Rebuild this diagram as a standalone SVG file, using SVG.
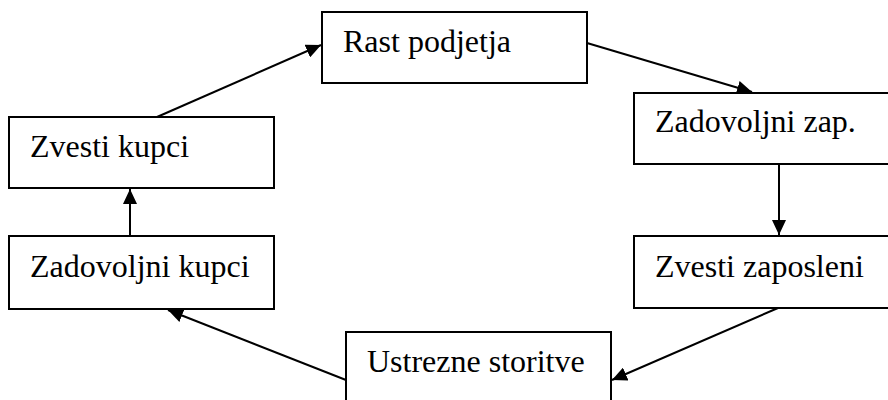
<svg xmlns="http://www.w3.org/2000/svg" width="888" height="400" viewBox="0 0 888 400">
  <style>
    .box { fill: #ffffff; stroke: #000000; stroke-width: 2; }
    .lbl { font-family: "Liberation Serif", "Times New Roman", serif; font-size: 32px; fill: #000000; }
    .conn { stroke: #000000; stroke-width: 2; fill: none; marker-end: url(#arrow); }
  </style>
  <defs>
    <marker id="arrow" markerUnits="userSpaceOnUse" markerWidth="16" markerHeight="14" refX="15" refY="7" orient="auto">
      <path d="M0,0 L15,7 L0,14 Z" fill="#000000"/>
    </marker>
  </defs>
  <rect width="888" height="400" fill="#ffffff"/>
  <g id="connectors">
    <line class="conn" x1="157" y1="117" x2="321" y2="45"/>
    <line class="conn" x1="587" y1="43" x2="752" y2="92"/>
    <line class="conn" x1="779" y1="164" x2="779" y2="235"/>
    <line class="conn" x1="778" y1="308" x2="612" y2="380"/>
    <line class="conn" x1="346" y1="380" x2="168" y2="310"/>
    <line class="conn" x1="130" y1="236" x2="130" y2="189"/>
  </g>
  <g id="rast-podjetja">
    <rect class="box" x="322" y="12" width="265" height="71"/>
    <text class="lbl" x="343" y="52">Rast podjetja</text>
  </g>
  <g id="zadovoljni-zap">
    <rect class="box" x="634" y="93" width="265" height="71"/>
    <text class="lbl" x="655" y="132">Zadovoljni zap.</text>
  </g>
  <g id="zvesti-zaposleni">
    <rect class="box" x="634" y="236" width="265" height="72"/>
    <text class="lbl" x="655" y="277">Zvesti zaposleni</text>
  </g>
  <g id="ustrezne-storitve">
    <rect class="box" x="346" y="332" width="265" height="80"/>
    <text class="lbl" x="367" y="372">Ustrezne storitve</text>
  </g>
  <g id="zadovoljni-kupci">
    <rect class="box" x="9" y="236" width="265" height="73"/>
    <text class="lbl" x="30" y="277">Zadovoljni kupci</text>
  </g>
  <g id="zvesti-kupci">
    <rect class="box" x="9" y="117" width="265" height="71"/>
    <text class="lbl" x="30" y="157">Zvesti kupci</text>
  </g>
</svg>
